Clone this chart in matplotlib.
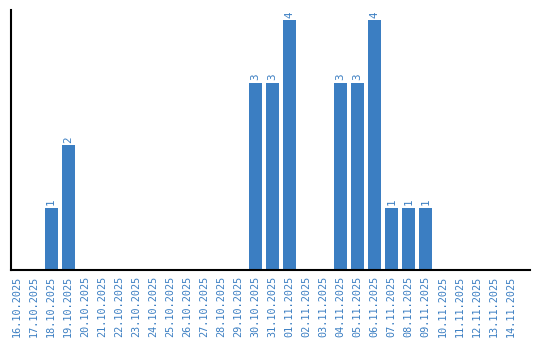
import matplotlib
matplotlib.use("Agg")
import matplotlib.pyplot as plt
import numpy as np

dates = ["16.10.2025", "17.10.2025", "18.10.2025", "19.10.2025", "20.10.2025",
         "21.10.2025", "22.10.2025", "23.10.2025", "24.10.2025", "25.10.2025",
         "26.10.2025", "27.10.2025", "28.10.2025", "29.10.2025", "30.10.2025",
         "31.10.2025", "01.11.2025", "02.11.2025", "03.11.2025", "04.11.2025",
         "05.11.2025", "06.11.2025", "07.11.2025", "08.11.2025", "09.11.2025",
         "10.11.2025", "11.11.2025", "12.11.2025", "13.11.2025", "14.11.2025"]
counts = [0, 0, 1, 2, 0, 0, 0, 0, 0, 0, 0, 0, 0, 0, 3, 3, 4, 0, 0, 3, 3, 4, 1, 1, 1,
          0, 0, 0, 0, 0]

blue = "#3b7ec2"
fig = plt.figure(figsize=(5.4, 3.4), dpi=100)
ax = fig.add_axes([11/540, 70/340, 519/540, 260/340])
x = np.arange(len(dates))
ax.bar(x, counts, width=0.76, color=blue)
for xi, c in zip(x, counts):
    if c > 0:
        ax.text(xi, c + 0.04, str(c), rotation=90, ha="center", va="bottom",
                color=blue, fontsize=7.8, family="DejaVu Sans Mono")
ax.set_xticks(x)
ax.set_xticklabels(dates, rotation=90, color=blue, fontsize=7.3, family="DejaVu Sans Mono")
ax.tick_params(axis="x", length=0, pad=4)
ax.set_yticks([])
ax.set_xlim(-0.35, 30.12)
ax.set_ylim(0, 4.16)
ax.spines["top"].set_visible(False)
ax.spines["right"].set_visible(False)
ax.spines["left"].set_linewidth(1.5)
ax.spines["bottom"].set_linewidth(1.5)
fig.savefig("out.png", dpi=100)
